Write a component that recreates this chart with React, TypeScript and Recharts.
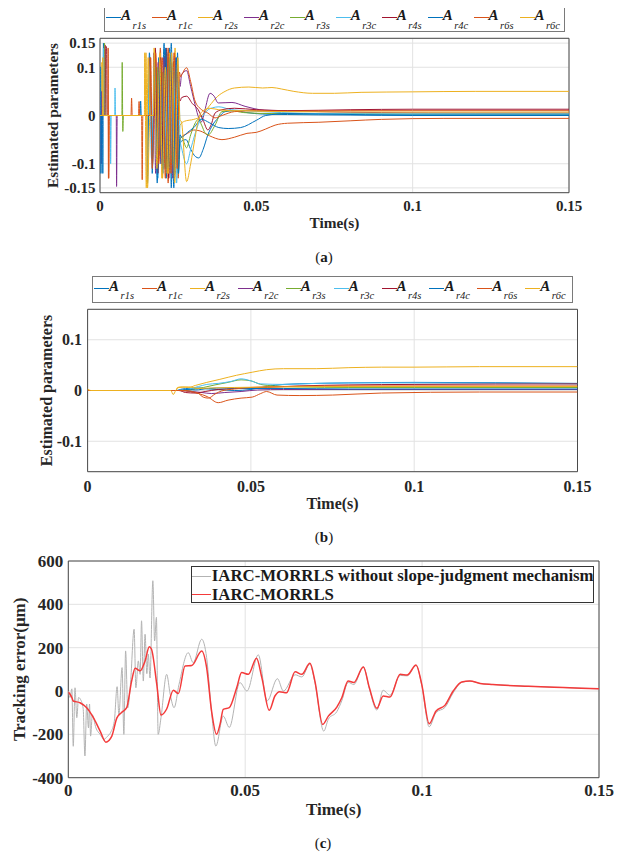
import React from 'react';
import { LineChart, Line, XAxis, YAxis, CartesianGrid, Legend, ReferenceArea } from 'recharts';

type Pt = [number, number];

// ---------- shared ----------
const paramNames = ['r1s', 'r1c', 'r2s', 'r2c', 'r3s', 'r3c', 'r4s', 'r4c', 'r6s', 'r6c'];
const paramColors = ['#0072BD', '#D95319', '#EDB120', '#7E2F8E', '#77AC30', '#4DBEEE', '#A2142F', '#0072BD', '#D95319', '#EDB120'];
const xTicks = [0, 0.05, 0.1, 0.15];
const yTicksA = [-0.15, -0.1, 0, 0.1, 0.15];
const yTicksB = [-0.1, 0, 0.1];
const yTicksC = [-400, -200, 0, 200, 400, 600];
const captionLabels = ['a', 'b', 'c'];
const errorSeriesNames = ['IARC-MORRLS without slope-judgment mechanism', 'IARC-MORRLS'];
const errorColors = ['#b3b3b3', '#f43a3a'];

// ---------- panel (a): estimated parameters, without slope judgment ----------
const aR1s: Pt[] = [[0,0],[0.0008,0],[0.0009,-0.12],[0.0011,0.15],[0.0013,0],[0.015,0],[0.0152,-0.14],[0.0158,0.13],[0.0165,0],[0.0185,0],[0.0188,0.12],[0.0195,-0.10],[0.0205,0.15],[0.0212,-0.13],[0.0222,0.14],[0.0228,-0.15],[0.0235,0.11],[0.0242,-0.12],[0.0248,0.13],[0.0253,-0.09],[0.0256,-0.06],[0.0261,-0.053],[0.0275,-0.05],[0.029,-0.07],[0.0305,-0.085],[0.0316,-0.088],[0.033,-0.07],[0.0345,-0.04],[0.036,-0.02],[0.0378,-0.005],[0.04,0.008],[0.043,0.01],[0.047,0.006],[0.052,0.003],[0.06,0.002],[0.08,0.001],[0.1,0],[0.15,0]];
const aR1c: Pt[] = [[0,0],[0.0026,0],[0.0027,-0.13],[0.0029,0],[0.0099,0],[0.0101,0.036],[0.0103,0],[0.0133,0],[0.0135,-0.133],[0.0137,0],[0.016,0],[0.0162,0.12],[0.0168,-0.10],[0.0176,0.10],[0.0184,-0.12],[0.0193,0.14],[0.0201,-0.11],[0.021,0.13],[0.0218,-0.14],[0.0226,0.12],[0.0234,-0.10],[0.0242,0.10],[0.025,-0.13],[0.0256,-0.05],[0.026,-0.045],[0.028,-0.037],[0.03,-0.03],[0.032,-0.032],[0.035,-0.042],[0.039,-0.05],[0.043,-0.045],[0.047,-0.037],[0.05,-0.035],[0.053,-0.028],[0.056,-0.02],[0.06,-0.016],[0.07,-0.014],[0.08,-0.011],[0.09,-0.008],[0.11,-0.006],[0.15,-0.006]];
const aR2s: Pt[] = [[0,0],[0.0005,0],[0.0006,0.11],[0.0008,0],[0.0145,0],[0.0147,0.13],[0.0152,-0.15],[0.016,0],[0.019,0],[0.0192,0.13],[0.0198,-0.13],[0.0207,0.10],[0.0215,-0.12],[0.0223,0.13],[0.0232,-0.11],[0.024,0.14],[0.0248,-0.08],[0.0256,-0.02],[0.027,-0.012],[0.03,-0.008],[0.032,-0.003],[0.035,0.02],[0.0375,0.039],[0.04,0.05],[0.043,0.057],[0.0476,0.059],[0.052,0.057],[0.055,0.058],[0.058,0.055],[0.062,0.05],[0.068,0.046],[0.075,0.046],[0.0835,0.048],[0.1,0.049],[0.12,0.05],[0.15,0.05]];
const aR2c: Pt[] = [[0,0],[0.0003,0],[0.0004,-0.10],[0.0006,0.05],[0.0008,0],[0.0052,0],[0.0053,-0.147],[0.0055,0],[0.017,0],[0.0172,0.13],[0.0178,-0.12],[0.0186,0.11],[0.0196,-0.10],[0.0205,0.12],[0.0214,-0.09],[0.0224,0.10],[0.0233,-0.13],[0.0243,0.12],[0.0252,0.08],[0.0256,0.06],[0.0261,0.085],[0.0277,0.093],[0.029,0.06],[0.0305,0.02],[0.0316,-0.005],[0.0325,-0.013],[0.0335,0.01],[0.0352,0.046],[0.0365,0.04],[0.0378,0.026],[0.0422,0.027],[0.0464,0.019],[0.0527,0.011],[0.06,0.01],[0.07,0.008],[0.09,0.006],[0.12,0.005],[0.15,0.005]];
const aR3s: Pt[] = [[0,0],[0.0013,0],[0.0014,0.15],[0.0017,0.12],[0.0019,0],[0.007,0],[0.0071,0.11],[0.0073,-0.033],[0.0075,0],[0.018,0],[0.0182,0.10],[0.019,-0.08],[0.02,0.09],[0.021,-0.11],[0.022,0.12],[0.023,-0.10],[0.024,0.09],[0.025,-0.12],[0.0256,-0.05],[0.0261,-0.045],[0.0277,-0.067],[0.029,-0.04],[0.0305,-0.015],[0.0314,-0.008],[0.0325,-0.02],[0.0336,-0.036],[0.0346,-0.04],[0.0368,-0.02],[0.039,0.008],[0.042,0.01],[0.046,0.006],[0.055,0.004],[0.07,0.004],[0.1,0.003],[0.15,0.003]];
const aR3c: Pt[] = [[0,0],[0.001,0],[0.0011,0.14],[0.0013,0],[0.0033,0],[0.0034,-0.10],[0.0036,0],[0.0047,0],[0.0048,0.057],[0.005,0],[0.0155,0],[0.0157,0.10],[0.0165,-0.09],[0.0175,0.12],[0.0185,-0.13],[0.0195,0.09],[0.0205,-0.11],[0.0215,0.13],[0.0225,-0.12],[0.0235,0.10],[0.0245,-0.14],[0.0253,0.07],[0.0256,-0.05],[0.0261,-0.067],[0.0277,-0.10],[0.029,-0.07],[0.0314,-0.019],[0.033,0],[0.0346,0.012],[0.036,0.016],[0.038,0.018],[0.042,0.012],[0.047,0.01],[0.052,0.008],[0.058,0.006],[0.07,0.004],[0.1,0.003],[0.15,0.003]];
const aR4s: Pt[] = [[0,0],[0.0016,0],[0.0017,0.145],[0.0021,0.14],[0.0023,0],[0.0175,0],[0.0177,0.14],[0.0185,-0.12],[0.0194,0.12],[0.0203,-0.10],[0.0212,0.14],[0.022,-0.13],[0.0229,0.11],[0.0238,-0.13],[0.0246,0.09],[0.0256,0.03],[0.0261,0.037],[0.0277,0.04],[0.0295,0.025],[0.0314,0.012],[0.033,-0.01],[0.0345,-0.03],[0.0355,-0.02],[0.0368,0.005],[0.039,0.012],[0.043,0.015],[0.05,0.012],[0.06,0.01],[0.08,0.012],[0.1,0.013],[0.15,0.013]];
const aR4c: Pt[] = [[0,0.1],[0.0002,0.1],[0.0003,-0.12],[0.0005,0],[0.0128,0],[0.013,0.03],[0.0132,0],[0.0165,0],[0.0167,-0.12],[0.0175,0.11],[0.0183,-0.14],[0.0192,0.10],[0.0201,-0.12],[0.021,0.14],[0.0219,-0.11],[0.0228,0.15],[0.0236,-0.15],[0.0244,0.12],[0.0251,-0.12],[0.0256,-0.04],[0.0261,-0.045],[0.028,-0.035],[0.03,-0.025],[0.0325,-0.008],[0.035,-0.015],[0.038,-0.025],[0.041,-0.027],[0.045,-0.025],[0.05,-0.01],[0.053,0],[0.06,0.004],[0.07,0.003],[0.1,0.001],[0.15,0.001]];
const aR6s: Pt[] = [[0,0],[0.0025,0],[0.0026,0.14],[0.0028,-0.13],[0.003,0],[0.0123,0],[0.0125,0.029],[0.0127,0],[0.0158,0],[0.016,0.12],[0.0167,-0.11],[0.0178,0.13],[0.0188,-0.10],[0.0199,0.12],[0.0209,-0.13],[0.0218,0.14],[0.0227,-0.12],[0.0237,0.13],[0.0247,-0.11],[0.0254,0.09],[0.0258,0.08],[0.0262,0.085],[0.0277,0.099],[0.029,0.07],[0.0304,0.03],[0.0325,0.012],[0.0345,0.005],[0.0368,-0.005],[0.039,0],[0.043,0.008],[0.05,0.01],[0.06,0.009],[0.08,0.01],[0.1,0.01],[0.15,0.01]];
const aR6c: Pt[] = [[0,0],[0.0008,0],[0.0009,0.12],[0.0011,0],[0.0142,0],[0.0143,0.13],[0.0148,-0.15],[0.0154,0.12],[0.016,0],[0.0171,0],[0.0173,0.14],[0.0182,-0.11],[0.0191,0.12],[0.02,-0.13],[0.0209,0.10],[0.0219,-0.12],[0.0229,0.13],[0.0239,-0.14],[0.0249,0.12],[0.0256,-0.01],[0.026,-0.012],[0.0277,-0.137],[0.029,-0.10],[0.0304,-0.046],[0.0316,-0.005],[0.033,0.01],[0.035,0.015],[0.038,0.012],[0.042,0.01],[0.046,0.01],[0.05,0.009],[0.06,0.008],[0.1,0.007],[0.15,0.007]];

// ---------- panel (b): estimated parameters, with slope judgment ----------
const bR1s: Pt[] = [[0,0],[0.027,0],[0.029,0.003],[0.031,0.004],[0.034,0.005],[0.037,0.003],[0.04,0.002],[0.045,0],[0.05,0.002],[0.055,0.008],[0.06,0.012],[0.07,0.014],[0.08,0.015],[0.1,0.016],[0.15,0.014]];
const bR1c: Pt[] = [[0,0],[0.028,0],[0.031,-0.002],[0.034,-0.006],[0.0366,-0.012],[0.04,-0.024],[0.043,-0.019],[0.047,-0.015],[0.0504,-0.013],[0.053,-0.006],[0.0548,-0.002],[0.058,-0.009],[0.065,-0.01],[0.075,-0.009],[0.09,-0.005],[0.12,-0.003],[0.15,-0.003]];
const bR2s: Pt[] = [[0,0.002],[0.001,0],[0.027,0],[0.0275,0.006],[0.029,0.007],[0.031,0.006],[0.033,0.01],[0.0365,0.016],[0.0405,0.022],[0.0456,0.03],[0.0504,0.036],[0.0548,0.041],[0.06,0.043],[0.07,0.043],[0.08,0.045],[0.09,0.046],[0.1,0.046],[0.12,0.047],[0.15,0.047]];
const bR2c: Pt[] = [[0,0],[0.029,0],[0.032,-0.002],[0.035,-0.004],[0.038,-0.006],[0.042,-0.004],[0.047,-0.002],[0.052,0.001],[0.06,0.002],[0.08,0.002],[0.15,0.002]];
const bR3s: Pt[] = [[0,0],[0.029,0],[0.032,0.002],[0.0355,0.006],[0.039,0.011],[0.043,0.016],[0.047,0.021],[0.05,0.019],[0.053,0.012],[0.057,0.009],[0.065,0.007],[0.08,0.006],[0.1,0.006],[0.15,0.006]];
const bR3c: Pt[] = [[0,0],[0.028,0],[0.031,0.003],[0.034,0.008],[0.0365,0.012],[0.04,0.014],[0.044,0.018],[0.047,0.023],[0.05,0.019],[0.053,0.013],[0.06,0.012],[0.07,0.014],[0.08,0.015],[0.1,0.015],[0.15,0.013]];
const bR4s: Pt[] = [[0,0],[0.028,0],[0.03,-0.004],[0.033,-0.005],[0.036,-0.002],[0.04,0.002],[0.045,0.004],[0.05,0.005],[0.055,0.006],[0.065,0.009],[0.08,0.011],[0.1,0.012],[0.15,0.013]];
const bR4c: Pt[] = [[0,0],[0.028,0],[0.03,0.002],[0.033,0.001],[0.037,0.004],[0.042,0.005],[0.05,0.004],[0.06,0.004],[0.08,0.003],[0.15,0.003]];
const bR6s: Pt[] = [[0,0],[0.03,0],[0.032,-0.002],[0.034,-0.006],[0.0354,-0.013],[0.037,-0.015],[0.039,-0.007],[0.041,-0.001],[0.045,0.003],[0.05,0.006],[0.06,0.008],[0.08,0.009],[0.1,0.009],[0.15,0.009]];
const bR6c: Pt[] = [[0,0.003],[0.0008,0],[0.0255,0],[0.0262,-0.008],[0.027,0],[0.028,0.006],[0.031,0.007],[0.034,0.004],[0.038,0.005],[0.045,0.006],[0.06,0.007],[0.08,0.008],[0.1,0.008],[0.15,0.008]];

// ---------- panel (c): tracking error (um) ----------
const errWithout: Pt[] = [[0,0],[0.0005,-30],[0.001,10],[0.0014,-255],[0.0019,15],[0.0024,-123],[0.0029,-30],[0.0035,-40],[0.0042,-80],[0.0047,-300],[0.0052,-60],[0.0057,-170],[0.006,-60],[0.0063,-208],[0.0068,-110],[0.0078,-170],[0.009,-200],[0.0101,-223],[0.011,-210],[0.012,-190],[0.013,-140],[0.0138,20],[0.0143,-110],[0.0152,108],[0.0157,-200],[0.0162,185],[0.0168,-77],[0.0176,40],[0.0186,285],[0.0191,15],[0.0198,139],[0.0203,77],[0.0207,324],[0.0212,46],[0.0217,262],[0.0222,80],[0.0226,170],[0.0231,60],[0.0239,509],[0.0244,231],[0.0249,340],[0.0254,-200],[0.0262,-123],[0.0278,77],[0.0288,-15],[0.0299,-77],[0.0313,31],[0.0339,177],[0.0353,131],[0.0377,239],[0.0391,154],[0.0405,-100],[0.0417,-254],[0.0438,-116],[0.0455,-168],[0.0485,39],[0.0505,0],[0.0537,167],[0.0562,-46],[0.0591,57],[0.0608,0],[0.0641,75],[0.066,65],[0.0683,125],[0.0697,40],[0.0722,-185],[0.0735,-130],[0.0759,-95],[0.0773,-45],[0.0791,40],[0.0807,30],[0.0834,112],[0.0851,10],[0.0872,-88],[0.089,4],[0.0909,-20],[0.0938,72],[0.0958,70],[0.0983,118],[0.0999,28],[0.102,-165],[0.1039,-100],[0.1065,-75],[0.1088,-8],[0.1112,40],[0.1135,46],[0.1164,35],[0.12,30],[0.13,22],[0.14,16],[0.15,10]];
const errWith: Pt[] = [[0,-5],[0.0005,-15],[0.001,-30],[0.0014,-46],[0.0033,-54],[0.0052,-77],[0.0071,-123],[0.009,-185],[0.0106,-236],[0.0123,-208],[0.0137,-125],[0.015,-100],[0.0165,-77],[0.0179,46],[0.0189,105],[0.0203,93],[0.0217,139],[0.0229,204],[0.0235,194],[0.025,32],[0.0262,-111],[0.0278,-83],[0.0297,4],[0.0311,-12],[0.033,116],[0.0349,118],[0.0377,185],[0.0391,108],[0.0405,-93],[0.0419,-200],[0.0429,-153],[0.0438,-85],[0.0455,-77],[0.0476,15],[0.049,85],[0.0509,77],[0.0532,151],[0.0547,62],[0.0568,-89],[0.0584,-23],[0.0597,-3],[0.0617,-8],[0.0641,89],[0.066,77],[0.0683,128],[0.0697,46],[0.0719,-154],[0.0735,-116],[0.0759,-74],[0.0773,-31],[0.0791,46],[0.0807,39],[0.0834,111],[0.0851,15],[0.0872,-80],[0.089,-23],[0.0909,-28],[0.0938,77],[0.0958,74],[0.0983,120],[0.0999,31],[0.102,-151],[0.1039,-93],[0.1065,-65],[0.1088,0],[0.1112,42],[0.1135,46],[0.1164,35],[0.12,30],[0.13,22],[0.14,16],[0.15,10]];

const seriesA = [aR1s, aR1c, aR2s, aR2c, aR3s, aR3c, aR4s, aR4c, aR6s, aR6c];
const seriesB = [bR1s, bR1c, bR2s, bR2c, bR3s, bR3c, bR4s, bR4c, bR6s, bR6c];
const seriesC = [errWithout, errWith];

// ---------- styling ----------
const FONT = '"Liberation Serif", "Times New Roman", Times, serif';
const INK = '#262626';
const FRAME = '#4a4a4a';
const GRID = '#e2e2e2';
const Y_W = 60;
const X_H = 40;

const rows = (pts: Pt[]) => pts.map(([t, v]) => ({ t, v }));

const xTitle = (text: string, fs: number, dy: number) => (p: any) => {
  const vb = p.viewBox || {};
  const x = vb.x + vb.width / 2;
  const y = vb.y + dy;
  return (
    <text x={x} y={y} textAnchor="middle" fontFamily={FONT} fontWeight="bold" fontSize={fs} fill={INK}>
      {text}
    </text>
  );
};

const yTitle = (text: string, fs: number, dx: number) => (p: any) => {
  const vb = p.viewBox || {};
  const x = vb.x + (vb.width || 0) + dx;
  const y = vb.y + vb.height / 2;
  return (
    <text x={x} y={y} transform={`rotate(-90 ${x} ${y})`} textAnchor="middle" fontFamily={FONT} fontWeight="bold" fontSize={fs} fill={INK}>
      {text}
    </text>
  );
};

function ParamLegendBox({ width, height }: { width: number; height: number }) {
  return (
    <div style={{ width, height, boxSizing: 'border-box', border: '1px solid #7a7a7a', background: '#fff', display: 'flex', fontFamily: FONT, color: '#1a1a1a' }}>
      {paramNames.map((n, i) => (
        <div key={n} style={{ position: 'relative', flex: 1, height: '100%' }}>
          <div style={{ position: 'absolute', left: 1.5, top: 11, width: 15, height: 0, borderTop: `1px solid ${paramColors[i]}` }} />
          <span style={{ position: 'absolute', left: 16.5, top: 2.4, fontSize: 15, lineHeight: '15px', fontStyle: 'italic', fontWeight: 'bold', whiteSpace: 'nowrap' }}>A</span>
          <span style={{ position: 'absolute', left: 28, top: 14.5, fontSize: 10.5, lineHeight: '10.5px', fontStyle: 'italic', whiteSpace: 'nowrap' }}>{n}</span>
        </div>
      ))}
    </div>
  );
}

function ErrorLegendBox({ width, height }: { width: number; height: number }) {
  return (
    <div style={{ width, height, boxSizing: 'border-box', border: '1px solid #333', background: '#fff', position: 'relative', fontFamily: FONT, color: '#1a1a1a' }}>
      {errorSeriesNames.map((n, i) => (
        <React.Fragment key={n}>
          <div style={{ position: 'absolute', left: 0, top: i === 0 ? 9 : 27, width: 19, height: 0, borderTop: `${i === 0 ? 1 : 1.5}px solid ${errorColors[i]}` }} />
          <span style={{ position: 'absolute', left: 20, top: i === 0 ? 0.6 : 19, fontSize: 16.8, lineHeight: '17px', fontWeight: 'bold', whiteSpace: 'nowrap' }}>{n}</span>
        </React.Fragment>
      ))}
    </div>
  );
}

function Caption({ label, cx, cy }: { label: string; cx: number; cy: number }) {
  return (
    <div style={{ position: 'absolute', left: cx, top: cy - 8, transform: 'translateX(-50%)', fontFamily: FONT, fontSize: 15, lineHeight: '16px', color: '#1a1a1a', whiteSpace: 'nowrap' }}>
      (<b>{label}</b>)
    </div>
  );
}

type PanelProps = {
  top: number;
  height: number;
  plot: { top: number; right: number; bottom: number; left: number };
  series: Pt[][];
  yTicks: number[];
  tickFs: number;
  titleFs: number;
  xTickMargin: number;
  yTickMargin: number;
  xTitleDy: number;
  yTitleDx: number;
  legend: { left: number; top: number; width: number; height: number };
};

function ParamPanel(p: PanelProps) {
  const tickStyle = { fontFamily: FONT, fontWeight: 'bold', fontSize: p.tickFs, fill: INK };
  const margin = { top: p.plot.top, right: p.plot.right, bottom: p.plot.bottom - X_H, left: p.plot.left - Y_W };
  return (
    <div style={{ position: 'absolute', left: 0, top: p.top }}>
      <LineChart width={633} height={p.height} margin={margin}>
        <CartesianGrid stroke={GRID} strokeWidth={1} />
        <XAxis dataKey="t" type="number" domain={[0, 0.15]} ticks={xTicks} interval={0} allowDataOverflow
          axisLine={false} tickLine={false} tickSize={0} tickMargin={p.xTickMargin} height={X_H} tick={tickStyle}
          label={xTitle('Time(s)', p.titleFs, p.xTitleDy)} />
        <YAxis type="number" domain={[-0.16, 0.16]} ticks={p.yTicks} interval={0} allowDataOverflow
          axisLine={false} tickLine={false} tickSize={0} tickMargin={p.yTickMargin} width={Y_W} tick={tickStyle}
          label={yTitle('Estimated parameters', p.titleFs, p.yTitleDx)} />
        {p.series.map((s, i) => (
          <Line key={paramNames[i]} name={paramNames[i]} data={rows(s)} dataKey="v" type="monotone" stroke={paramColors[i]}
            strokeWidth={1} dot={false} activeDot={false} isAnimationActive={false} />
        ))}
        <ReferenceArea x1={0} x2={0.15} y1={-0.16} y2={0.16} fill="none" stroke={FRAME} strokeWidth={1} fillOpacity={0} />
        <Legend layout="horizontal" verticalAlign="middle" align="center"
          wrapperStyle={{ left: p.legend.left, top: p.legend.top, width: p.legend.width, height: p.legend.height }}
          content={() => <ParamLegendBox width={p.legend.width} height={p.legend.height} />} />
      </LineChart>
    </div>
  );
}

function ErrorPanel() {
  const tickStyle = { fontFamily: FONT, fontWeight: 'bold', fontSize: 17, fill: INK };
  const legend = { left: 190.8, top: 15.7, width: 403.5, height: 37.3 };
  return (
    <div style={{ position: 'absolute', left: 0, top: 550 }}>
      <LineChart width={633} height={304} margin={{ top: 11, right: 34, bottom: 76.3 - X_H, left: 68.3 - Y_W }}>
        <CartesianGrid stroke={GRID} strokeWidth={1} />
        <XAxis dataKey="t" type="number" domain={[0, 0.15]} ticks={xTicks} interval={0} allowDataOverflow
          axisLine={false} tickLine={false} tickSize={0} tickMargin={6.5} height={X_H} tick={tickStyle}
          label={xTitle('Time(s)', 17, 37.3)} />
        <YAxis type="number" domain={[-400, 600]} ticks={yTicksC} interval={0} allowDataOverflow
          axisLine={false} tickLine={false} tickSize={0} tickMargin={5} width={Y_W} tick={tickStyle}
          label={yTitle('Tracking error(μm)', 17, -43)} />
        {seriesC.map((s, i) => (
          <Line key={errorSeriesNames[i]} name={errorSeriesNames[i]} data={rows(s)} dataKey="v" type="monotone" stroke={errorColors[i]}
            strokeWidth={i === 0 ? 1 : 1.5} dot={false} activeDot={false} isAnimationActive={false} />
        ))}
        <ReferenceArea x1={0} x2={0.15} y1={-400} y2={600} fill="none" stroke={FRAME} strokeWidth={1} fillOpacity={0} />
        <Legend layout="horizontal" verticalAlign="middle" align="center"
          wrapperStyle={{ left: legend.left, top: legend.top, width: legend.width, height: legend.height }}
          content={() => <ErrorLegendBox width={legend.width} height={legend.height} />} />
      </LineChart>
    </div>
  );
}

export default function App() {
  return (
    <div style={{ position: 'relative', width: 633, height: 854 }}>
      <div style={{ position: 'absolute', left: -8, top: -8, width: 633, height: 854, background: '#fff' }}>
        <ParamPanel top={0} height={270} plot={{ top: 38.3, right: 64, bottom: 77.3, left: 100 }}
          series={seriesA} yTicks={yTicksA} tickFs={15} titleFs={15.3} xTickMargin={8} yTickMargin={4.4}
          xTitleDy={35.6} yTitleDx={-42} legend={{ left: 103.6, top: 5, width: 461.4, height: 26.7 }} />
        <Caption label={captionLabels[0]} cx={324} cy={256.7} />
        <ParamPanel top={270} height={280} plot={{ top: 39.3, right: 55.5, bottom: 78.3, left: 87.6 }}
          series={seriesB} yTicks={yTicksB} tickFs={16} titleFs={16} xTickMargin={9} yTickMargin={5.6}
          xTitleDy={37} yTitleDx={-36} legend={{ left: 91.6, top: 5.7, width: 481, height: 27 }} />
        <Caption label={captionLabels[1]} cx={324} cy={536.7} />
        <ErrorPanel />
        <Caption label={captionLabels[2]} cx={323} cy={843} />
      </div>
    </div>
  );
}
